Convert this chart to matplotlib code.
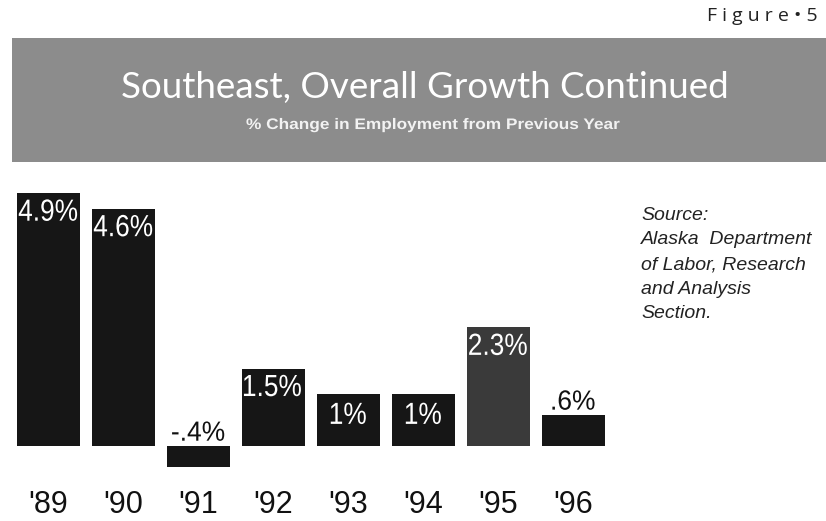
import matplotlib.pyplot as plt
import matplotlib.transforms as mtransforms
from matplotlib.patches import Rectangle, PathPatch
from matplotlib.textpath import TextPath
from matplotlib.font_manager import FontProperties

# data
years = ["'89", "'90", "'91", "'92", "'93", "'94", "'95", "'96"]
change = [4.9, 4.6, -0.4, 1.5, 1.0, 1.0, 2.3, 0.6]
labels = ["4.9%", "4.6%", "-.4%", "1.5%", "1%", "1%", "2.3%", ".6%"]
source_lines = ["Source:", "Alaska  Department", "of Labor, Research",
                "and Analysis", "Section."]

W, H = 826, 521
DPI = 100
fig = plt.figure(figsize=(W / DPI, H / DPI), dpi=DPI)
fig.patch.set_facecolor('white')


def shaped_text(x, y, s, size, sx, ha, va, color, trans, prop, zorder=5):
    # text drawn as a path so it can be squeezed / widened horizontally
    tp = TextPath((0, 0), s, size=size, prop=prop)
    bb = tp.get_extents()
    dx = {'left': -bb.x0, 'center': -(bb.x0 + bb.x1) / 2, 'right': -bb.x1}[ha]
    dy = {'top': -bb.y1, 'center': -(bb.y0 + bb.y1) / 2, 'bottom': -bb.y0,
          'baseline': 0}[va]
    tr = (mtransforms.Affine2D().translate(dx, dy).scale(sx * DPI / 72, DPI / 72)
          + mtransforms.ScaledTranslation(x, y, trans))
    p = PathPatch(tp, transform=tr, facecolor=color, edgecolor='none',
                  clip_on=False, zorder=zorder)
    return p


# header band
fig.patches.append(Rectangle((12 / W, 1 - 162 / H), 1 - 12 / W, 124 / H,
                             transform=fig.transFigure, facecolor='#8c8c8c',
                             edgecolor='none', zorder=0))
fig.text(425 / W, 1 - 98 / H, "Southeast, Overall Growth Continued",
         ha='center', va='baseline', color='white', fontsize=26.5, family='Lato')
sub_prop = FontProperties(family='Liberation Sans', weight='bold')
fig.patches.append(shaped_text(433 / W, 1 - 129 / H,
                               "% Change in Employment from Previous Year",
                               11, 1.13, 'center', 'baseline', '#f2f2f2',
                               fig.transFigure, sub_prop))
fig.text(818 / W, 1 - 16 / H, "F i g u r e • 5", ha='right', va='center',
         color='#222222', fontsize=14, family='Open Sans')

# bars
ax = fig.add_axes([10.5 / W, 1 - 477 / H, 600.5 / W, (477 - 188) / H])
x = list(range(len(years)))
colors = ['#161616'] * len(years)
colors[6] = '#3a3a3a'
ax.bar(x, change, width=0.84, color=colors, edgecolor='none')

lab_prop = FontProperties(family='Liberation Sans')
for i, (v, t) in enumerate(zip(change, labels)):
    if t in ("-.4%", ".6%"):
        p = shaped_text(i, max(v, 0) + 0.1, t, 20, 0.95, 'center', 'bottom',
                        '#111111', ax.transData, lab_prop)
    elif t == "1%":
        p = shaped_text(i, v - 0.16, t, 22, 0.86, 'center', 'top',
                        'white', ax.transData, lab_prop)
    else:
        p = shaped_text(i - 0.39, v - 0.12, t, 22, 0.86, 'left', 'top',
                        'white', ax.transData, lab_prop)
    ax.add_patch(p)
    ax.text(i, -1.30, years[i], ha='center', va='baseline', fontsize=22,
            family='Liberation Sans', color='#111111', clip_on=False)

ax.set_xlim(-0.5, 7.5)
ax.set_ylim(-0.6, 5.0)
ax.axis('off')

# source note
for k, line in enumerate(source_lines):
    fig.text(641 / W, 1 - (220 + k * 24.5) / H, line, ha='left', va='baseline',
             fontsize=14, style='italic', family='Liberation Sans', color='#222222')

fig.savefig('out.png', dpi=DPI)
